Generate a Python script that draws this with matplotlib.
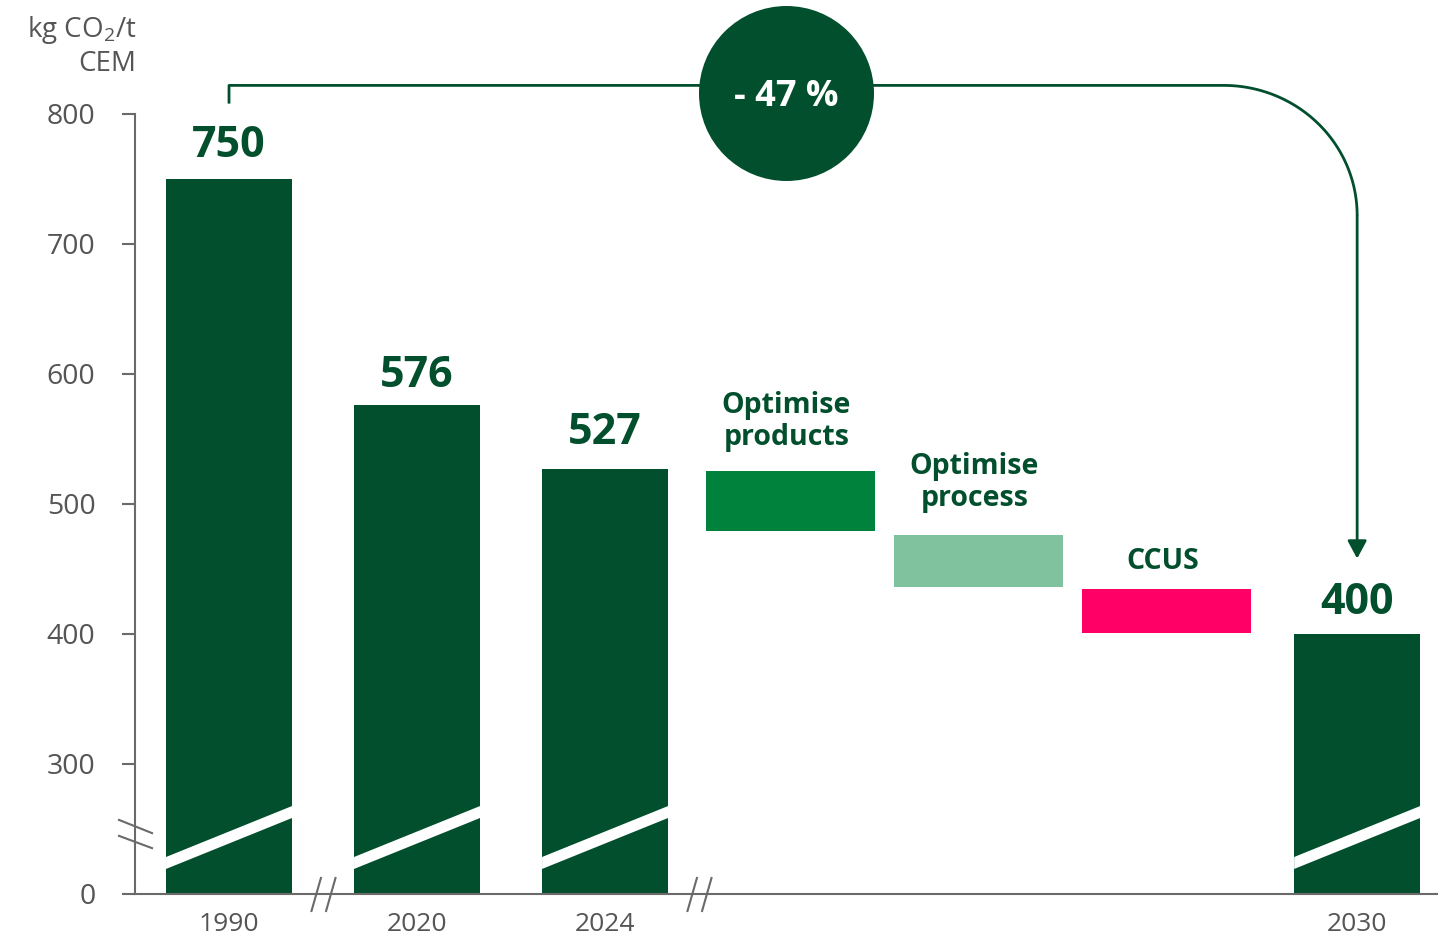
import numpy as np
import matplotlib
matplotlib.use("Agg")
import matplotlib.pyplot as plt
from matplotlib.path import Path
from matplotlib.patches import Polygon

# ---------------- data ----------------
years = ['1990', '2020', '2024', '2030']
year_values = [750, 576, 527, 400]
year_pos = [0, 1, 2, 6]

levers = ['Optimise\nproducts', 'Optimise\nprocess', 'CCUS']
lever_top = [525, 476, 435]
lever_bottom = [479, 436, 401]
lever_pos = [3, 4, 5]

ytick_values = [0, 300, 400, 500, 600, 700, 800]
reduction_label = '- 47 %'
unit_line1 = 'kg CO$_{2}$/t'
unit_line2 = 'CEM'

# ---------------- style ----------------
DARK = '#024f2d'
LEVER_COLORS = ['#00823c', '#80c29d', '#ff0066']
AXIS_GRAY = '#6a6a6a'
TEXT_GRAY = '#555555'
FONT = ['Open Sans', 'DejaVu Sans']
plt.rcParams['font.family'] = FONT
plt.rcParams['mathtext.fontset'] = 'custom'
plt.rcParams['mathtext.rm'] = 'Open Sans'
plt.rcParams['mathtext.it'] = 'Open Sans'
plt.rcParams['mathtext.bf'] = 'Open Sans:bold'


def fwd(v):
    v = np.asarray(v, dtype=float)
    return np.where(v >= 300, v - 200, v / 3.0)


def inv(d):
    d = np.asarray(d, dtype=float)
    return np.where(d >= 100, d + 200, d * 3.0)


fig = plt.figure(figsize=(14.38, 9.40), dpi=100)
ax = fig.add_axes([135 / 1438, 46 / 940, 1303 / 1438, 894 / 940])
ax.set_yscale('function', functions=(fwd, inv))
ax.set_xlim(-0.5, 6.43)
ax.set_ylim(0, float(inv(894 / 1.3)))

# main bars
bar_w = 0.67
ax.bar(year_pos, year_values, width=bar_w, color=DARK, zorder=2)

# white diagonal "cut" stripes on the bars
xt = ax.get_xaxis_transform()
for x in year_pos:
    poly = Polygon([(x - bar_w / 2, 0.028), (x + bar_w / 2, 0.085),
                    (x + bar_w / 2, 0.0984), (x - bar_w / 2, 0.0414)],
                   closed=True, facecolor='white', edgecolor='none',
                   transform=xt, zorder=3)
    ax.add_patch(poly)

# waterfall bars
heights = np.subtract(lever_top, lever_bottom)
ax.bar(np.subtract(lever_pos, 0.015), heights, bottom=lever_bottom, width=0.9,
       color=LEVER_COLORS, zorder=2)

# value labels
value_offsets = [16, 13, 18, 14.5]
for x, v, off in zip(year_pos, year_values, value_offsets):
    ax.annotate(str(v), (x, v), xytext=(0, off), textcoords='offset points',
                ha='center', va='baseline', fontsize=31, fontweight='bold',
                color=DARK)

# lever labels
lever_offsets = [19, 21, 14]
for x, t, lab, off in zip(lever_pos, lever_top, levers, lever_offsets):
    ax.annotate(lab, (x - 0.035, t), xytext=(0, off), textcoords='offset points',
                ha='center', va='baseline', fontsize=20.5, fontweight='bold',
                color=DARK, linespacing=1.12, multialignment='center')

# axes styling
for s in ['top', 'right']:
    ax.spines[s].set_visible(False)
ax.spines['left'].set_bounds(0, 800)
for s in ['left', 'bottom']:
    ax.spines[s].set_color(AXIS_GRAY)
    ax.spines[s].set_linewidth(1.5)

ax.set_yticks(ytick_values)
ax.set_yticklabels([str(v) for v in ytick_values])
ax.tick_params(axis='y', length=9.4, width=1.5, color=AXIS_GRAY, pad=19,
               labelsize=20.5, labelcolor=TEXT_GRAY)
ax.set_xticks(year_pos)
ax.set_xticklabels(years)
ax.tick_params(axis='x', length=0, pad=13, labelsize=19, labelcolor=TEXT_GRAY)

# axis break marks
ybreak = Path([(-17.5, 15), (17.5, 1), (-17.5, -1), (17.5, -14)],
              [Path.MOVETO, Path.LINETO, Path.MOVETO, Path.LINETO])
xbreak = Path([(-12.3, -17.5), (-2.3, 17.5), (2.3, -17.5), (12.3, 17.5)],
              [Path.MOVETO, Path.LINETO, Path.MOVETO, Path.LINETO])
ms = 35 * 72 / 100
ax.plot([-0.5], [138], marker=ybreak, markersize=ms, markerfacecolor='none',
        markeredgecolor=AXIS_GRAY, markeredgewidth=1.5, linestyle='none',
        clip_on=False, zorder=4)
ax.plot([0.5, 2.5], [0, 0], marker=xbreak, markersize=ms, markerfacecolor='none',
        markeredgecolor=AXIS_GRAY, markeredgewidth=1.5, linestyle='none',
        clip_on=False, zorder=4)

# connector arrow 1990 -> 2030
x0, x1 = year_pos[0], year_pos[-1]
y_start = year_values[0] + 58
y_line = 822
rx, ry = 0.71, 100
t = np.linspace(0, np.pi / 2, 60)
px = np.concatenate([[x0, x0, x1 - rx], (x1 - rx) + rx * np.sin(t)])
py = np.concatenate([[y_start, y_line, y_line], (y_line - ry) + ry * np.cos(t)])
ax.plot(px, py, color=DARK, lw=2, solid_capstyle='butt', zorder=4,
        clip_on=False)
ax.annotate('', xy=(x1, year_values[-1] + 58), xytext=(x1, y_line - ry),
            arrowprops=dict(arrowstyle='-|>,head_length=0.54,head_width=0.29',
                            mutation_scale=20, color=DARK, lw=2,
                            shrinkA=0, shrinkB=0),
            zorder=4)

# reduction circle
cx, cy = 2.963, 816
ax.plot([cx], [cy], marker='o', markersize=126, color=DARK,
        markeredgewidth=0, zorder=5, clip_on=False)
ax.text(cx, cy - 3, reduction_label, ha='center', va='center', fontsize=26,
        fontweight='bold', color='white', zorder=6)

# unit label
fig.text(136 / 1438, 1 - 37 / 940, unit_line1, ha='right', va='baseline',
         fontsize=20, color=TEXT_GRAY)
fig.text(136 / 1438, 1 - 71 / 940, unit_line2, ha='right', va='baseline',
         fontsize=20, color=TEXT_GRAY)

fig.savefig('out.png', dpi=100)
